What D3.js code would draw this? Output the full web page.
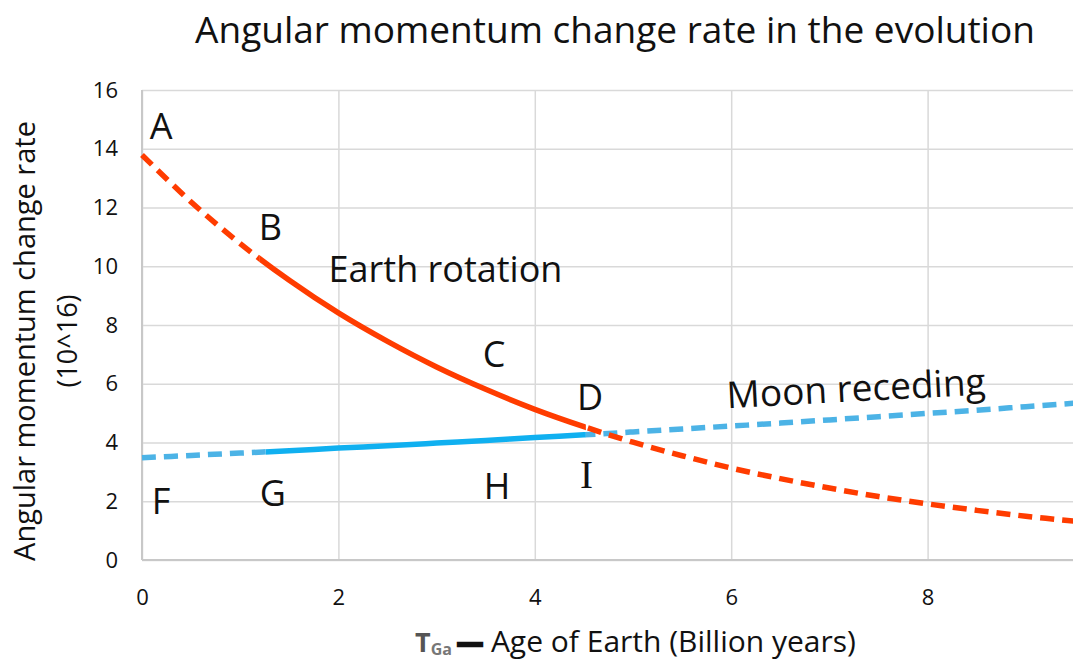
<!DOCTYPE html>
<html>
<head>
<meta charset="utf-8">
<script src="https://cdn.jsdelivr.net/npm/d3@7"></script>
<style>
  body { margin: 0; background: #fff; }
  svg { display: block; }
  .grid line { stroke: #d9d9d9; stroke-width: 1.5; }
  .tick text { fill: #111; }
  .sans { font-family: "Open Sans", "Liberation Sans", sans-serif; }
</style>
</head>
<body>
<div id="div"></div>
<script>
const w = 1073;
const h = 662;
const margin = {left: 142, top: 90, bottom: 102};

// age of earth, billion years
const ages = [0, 0.5, 1, 1.5, 2, 2.5, 3, 3.5, 4, 4.5, 5, 5.5, 6, 6.5, 7, 7.5, 8, 8.5, 9, 9.5];
// angular momentum change rate (10^16)
const earthRotation = [13.79, 12.19, 10.77, 9.52, 8.41, 7.44, 6.57, 5.81, 5.13, 4.54, 4.01, 3.55, 3.13, 2.77, 2.45, 2.16, 1.91, 1.69, 1.49, 1.32];
const moonReceding = [3.48, 3.56, 3.64, 3.72, 3.81, 3.89, 3.98, 4.07, 4.17, 4.26, 4.36, 4.46, 4.56, 4.66, 4.77, 4.88, 4.99, 5.10, 5.22, 5.34];
// part of each curve that is drawn solid
const earthSolid = [1.2, 4.52];
const moonSolid = [1.26, 4.52];
const xTicks = [0, 2, 4, 6, 8];
const yTicks = [0, 2, 4, 6, 8, 10, 12, 14, 16];
// letters on the chart, in data units (x, y)
const labels = ["A", "B", "C", "D", "F", "G", "H", "I", "Earth rotation"];
const labelX = [0.08, 1.19, 3.47, 4.43, 0.10, 1.20, 3.48, 4.46, 1.90];
const labelY = [14.33, 10.89, 6.57, 5.11, 1.57, 1.84, 2.08, 2.45, 9.46];

var x = d3.scaleLinear()
    .domain([0, 10])
    .range([margin.left, margin.left + 982]);

var y = d3.scaleLinear()
    .domain([0, 16])
    .range([h - margin.bottom, margin.top]);

let svg = d3.select("#div")
    .append("svg")
    .attr("width", w)
    .attr("height", h);

// gridlines
svg.append("g")
    .attr("class", "grid")
    .attr("transform", "translate(0," + (h - margin.bottom) + ")")
    .call(d3.axisBottom(x).tickValues(xTicks).tickSize(-(h - margin.bottom - margin.top)).tickFormat(""))
    .call(g => g.select(".domain").remove());

svg.append("g")
    .attr("class", "grid")
    .attr("transform", "translate(" + margin.left + ",0)")
    .call(d3.axisLeft(y).tickValues(yTicks).tickSize(-(w - margin.left)).tickFormat(""))
    .call(g => g.select(".domain").remove());

// axis lines
svg.append("line")
    .attr("x1", margin.left).attr("x2", margin.left)
    .attr("y1", y(16)).attr("y2", y(0))
    .attr("stroke", "#c8c8c8").attr("stroke-width", 2);
svg.append("line")
    .attr("x1", margin.left).attr("x2", w)
    .attr("y1", y(0)).attr("y2", y(0))
    .attr("stroke", "#c8c8c8").attr("stroke-width", 2);

// tick labels
svg.append("g")
    .attr("transform", "translate(0," + (h - margin.bottom) + ")")
    .call(d3.axisBottom(x).tickValues(xTicks).tickSize(0).tickPadding(29))
    .call(g => g.select(".domain").remove())
    .selectAll("text")
    .attr("class", "sans")
    .attr("font-size", 22);

svg.append("g")
    .attr("transform", "translate(" + margin.left + ",0)")
    .call(d3.axisLeft(y).tickValues(yTicks).tickSize(0).tickPadding(24))
    .call(g => g.select(".domain").remove())
    .selectAll("text")
    .attr("class", "sans")
    .attr("font-size", 22);

// curves
var defs = svg.append("defs");
function clipRange(id, lo, hi) {
    defs.append("clipPath").attr("id", id)
        .append("rect")
        .attr("x", x(lo)).attr("y", 0)
        .attr("width", x(hi) - x(lo)).attr("height", h);
}
function drawCurve(name, values, solid, solidColor, dashColor) {
    var pts = ages.map((a, i) => [a, values[i]]);
    var line = d3.line()
        .x(d => x(d[0]))
        .y(d => y(d[1]))
        .curve(d3.curveCatmullRom);
    clipRange(name + "-a", -1, solid[0]);
    clipRange(name + "-b", solid[0], solid[1]);
    clipRange(name + "-c", solid[1], 11);
    [["a", dashColor, "14 8"], ["b", solidColor, null], ["c", dashColor, "14 8"]].forEach(p => {
        svg.append("path")
            .datum(pts)
            .attr("clip-path", "url(#" + name + "-" + p[0] + ")")
            .attr("fill", "none")
            .attr("stroke", p[1])
            .attr("stroke-width", 5.5)
            .attr("stroke-dasharray", p[2])
            .attr("d", line);
    });
}
drawCurve("moon", moonReceding, moonSolid, "#10b0f0", "#4cb3e6");
drawCurve("earth", earthRotation, earthSolid, "#ff3c00", "#ff3c00");

// letters
labels.forEach((t, i) => {
    svg.append("text")
        .attr("class", t == "I" ? null : "sans")
        .attr("x", x(labelX[i]))
        .attr("y", y(labelY[i]))
        .attr("font-size", t == "I" ? 39 : 36)
        .attr("font-family", t == "I" ? "Liberation Serif, serif" : null)
        .attr("fill", "#111")
        .text(t);
});

svg.append("text")
    .attr("class", "sans")
    .attr("transform", "translate(" + x(5.96) + "," + y(5.17) + ") rotate(-3)")
    .attr("font-size", 37)
    .attr("fill", "#111")
    .text("Moon receding");

// title
svg.append("text")
    .attr("class", "sans")
    .attr("text-anchor", "middle")
    .attr("x", 615)
    .attr("y", 43)
    .attr("font-size", 37)
    .attr("fill", "#111")
    .text("Angular momentum change rate in the evolution");

// y label
svg.append("text")
    .attr("class", "sans")
    .attr("text-anchor", "middle")
    .attr("transform", "translate(35,341) rotate(-90)")
    .attr("font-size", 29)
    .attr("fill", "#111")
    .text("Angular momentum change rate");
svg.append("text")
    .attr("class", "sans")
    .attr("text-anchor", "middle")
    .attr("transform", "translate(77,341) rotate(-90)")
    .attr("font-size", 27)
    .attr("fill", "#111")
    .text("(10^16)");

// x label
var xl = svg.append("text")
    .attr("class", "sans")
    .attr("x", 415)
    .attr("y", 652)
    .attr("font-size", 30)
    .attr("fill", "#111");
xl.append("tspan").attr("fill", "#555").attr("font-weight", "bold").attr("font-size", 27).text("T");
xl.append("tspan").attr("fill", "#777").attr("font-weight", "bold").attr("font-size", 16).attr("dy", 3).text("Ga");
xl.append("tspan").attr("font-weight", "bold").attr("font-size", 26).attr("dy", -3).attr("dx", 5)
    .attr("stroke", "#111").attr("stroke-width", 2.5).text("\u2014");
xl.append("tspan").attr("dx", 8).text("Age of Earth (Billion years)");
</script>
</body>
</html>
